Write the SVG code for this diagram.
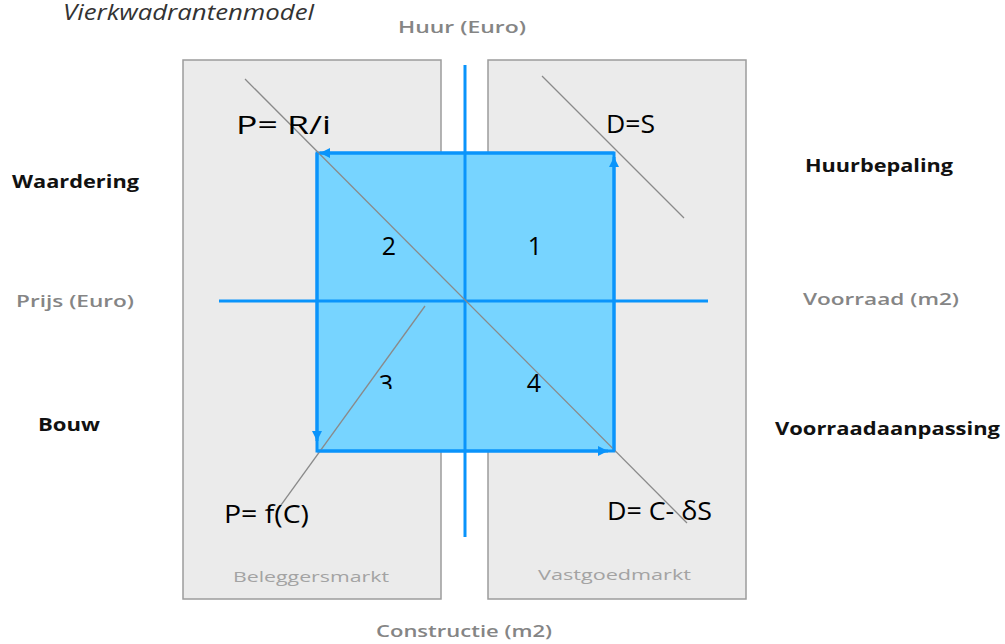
<svg xmlns="http://www.w3.org/2000/svg" width="1005" height="644" viewBox="0 0 1005 644">
<defs>
<marker id="ah" viewBox="0 0 10 10" refX="10" refY="5" markerWidth="10" markerHeight="11" markerUnits="userSpaceOnUse" orient="auto"><path d="M0,0 L10,5 L0,10 z" fill="#0a94fb"/></marker>
<clipPath id="clip3"><rect x="370" y="360" width="40" height="29"/></clipPath>
</defs>
<style>
.box{fill:#ebebeb;stroke:#9c9c9c;stroke-width:1.5}
.axis{stroke:#0a94fb;stroke-width:3;fill:none}
.edge{stroke:#0a94fb;stroke-width:3;fill:none}
.curve{stroke:#8a8a8a;stroke-width:1.3;fill:none}
.axl{font-family:"Open Sans","Liberation Sans",sans-serif;font-weight:600;font-size:17px;fill:#858585}
.ql{font-family:"Open Sans","Liberation Sans",sans-serif;font-weight:700;font-size:17px;fill:#111}
.mk{font-family:"Open Sans","Liberation Sans",sans-serif;font-size:15px;fill:#a3a3a3}
.f{font-family:"Open Sans","Liberation Sans",sans-serif;font-size:26px;fill:#000}
.n{font-family:"Open Sans","Liberation Sans",sans-serif;font-size:25px;fill:#000}
</style>
<rect width="1005" height="644" fill="#fff"/>
<text x="63" y="20" font-family="'Open Sans','Liberation Sans',sans-serif" font-style="italic" font-size="21" fill="#333" textLength="251" lengthAdjust="spacingAndGlyphs">Vierkwadrantenmodel</text>
<g id="beleggersmarkt">
<rect class="box" x="183" y="60" width="258" height="539"/>
<text class="mk" x="233" y="582" textLength="156" lengthAdjust="spacingAndGlyphs">Beleggersmarkt</text>
</g>
<g id="vastgoedmarkt">
<rect class="box" x="488" y="60" width="258" height="539"/>
<text class="mk" x="538" y="580" textLength="153" lengthAdjust="spacingAndGlyphs">Vastgoedmarkt</text>
</g>
<g id="cyclus">
<rect x="317" y="153" width="297" height="298" fill="#77d4ff" stroke="#0a94fb" stroke-width="3"/>
</g>
<g id="connectors">
<line class="axis" x1="465" y1="65" x2="465" y2="537"/>
<line class="axis" x1="219" y1="301" x2="708" y2="301"/>
<line class="curve" x1="245" y1="79" x2="687" y2="523"/>
<line class="curve" x1="542" y1="76" x2="684" y2="218"/>
<line class="curve" x1="425" y1="306" x2="276" y2="512"/>
<line class="edge" x1="614" y1="451" x2="614" y2="157" marker-end="url(#ah)"/>
<line class="edge" x1="614" y1="153" x2="320" y2="153" marker-end="url(#ah)"/>
<line class="edge" x1="317" y1="153" x2="317" y2="441" marker-end="url(#ah)"/>
<line class="edge" x1="317" y1="451" x2="608" y2="451" marker-end="url(#ah)"/>
</g>
<g id="as-labels">
<text class="axl" x="398" y="33" textLength="128" lengthAdjust="spacingAndGlyphs">Huur (Euro)</text>
<text class="axl" x="16" y="307" textLength="118" lengthAdjust="spacingAndGlyphs">Prijs (Euro)</text>
<text class="axl" x="803" y="305" textLength="156" lengthAdjust="spacingAndGlyphs">Voorraad (m2)</text>
<text class="axl" x="376" y="637" textLength="176" lengthAdjust="spacingAndGlyphs">Constructie (m2)</text>
</g>
<g id="kwadrant-labels">
<text class="ql" x="12" y="188" textLength="127" lengthAdjust="spacingAndGlyphs">Waardering</text>
<text class="ql" x="38" y="431" textLength="62" lengthAdjust="spacingAndGlyphs">Bouw</text>
<text class="ql" x="805" y="172" textLength="148" lengthAdjust="spacingAndGlyphs">Huurbepaling</text>
<text class="ql" x="775" y="435" textLength="225" lengthAdjust="spacingAndGlyphs">Voorraadaanpassing</text>
</g>
<g id="formules">
<text class="f" x="236" y="134" textLength="95" lengthAdjust="spacingAndGlyphs">P= R/i</text>
<text class="f" x="606" y="133" textLength="49" lengthAdjust="spacingAndGlyphs">D=S</text>
<text class="f" x="224" y="523" textLength="85" lengthAdjust="spacingAndGlyphs">P= f(C)</text>
<text class="f" x="607" y="520" textLength="105" lengthAdjust="spacingAndGlyphs">D= C- δS</text>
</g>
<g id="nummers">
<text class="n" x="389" y="255" text-anchor="middle">2</text>
<text class="n" x="535" y="255" text-anchor="middle">1</text>
<text class="n" x="386" y="393" text-anchor="middle" clip-path="url(#clip3)">3</text>
<text class="n" x="534" y="392" text-anchor="middle">4</text>
</g>
</svg>
